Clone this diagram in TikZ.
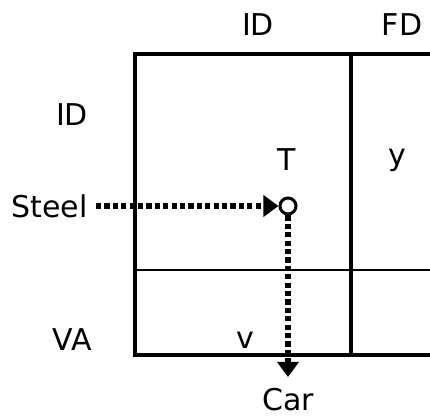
\documentclass[tikz,border=0pt]{standalone}
\usepackage{fontspec}
\setmainfont{DejaVu Sans}
\usetikzlibrary{arrows.meta,calc}
\definecolor{ink}{HTML}{000000}

\begin{document}
\begin{tikzpicture}[
  x=0.5pt, y=-0.5pt,
  font=\fontsize{15}{18}\selectfont,
  >={Triangle[length=7.5pt, width=10.5pt]},
  label/.style={text=ink, inner sep=0pt},
  grid/.style={draw=ink, line width=1.6pt},
  inner/.style={draw=ink, line width=1.4pt},
  flow/.style={->, draw=ink, line width=2.6pt, dash pattern=on 2.6pt off 1.6pt},
  junction/.style={circle, draw=ink, fill=white, line width=1.5pt, minimum size=8pt, inner sep=0pt}
]
\useasboundingbox (0,0) rectangle (430,417);

% Table frame
\draw[grid] (430,54) -- (135,54) -- (135,355) -- (430,355);
\draw[grid] (351,54) -- (351,355);
\draw[inner] (135,270) -- (430,270);

% Column and row headers
\node[label] (colid) at (258,25) {ID};
\node[label] (colfd) at (402,25) {FD};
\node[label] (rowid) at (72,115) {ID};
\node[label] (rowva) at (72,340) {VA};

% Cell entries
\node[label] (t) at (287,160) {T};
\node[label] (y) at (397,160) {y};
\node[label] (v) at (245,340) {v};

% Flow through the table
\node[label, anchor=east] (steel) at (88,206) {Steel};
\node[junction] (cross) at (288,206) {};
\node[label] (car) at (288,400) {Car};
\coordinate (carin) at (288,377);
\draw[flow, shorten <=4pt] (steel.east) -- (cross.west);
\draw[flow] (cross.south) -- (carin);

\end{tikzpicture}
\end{document}
